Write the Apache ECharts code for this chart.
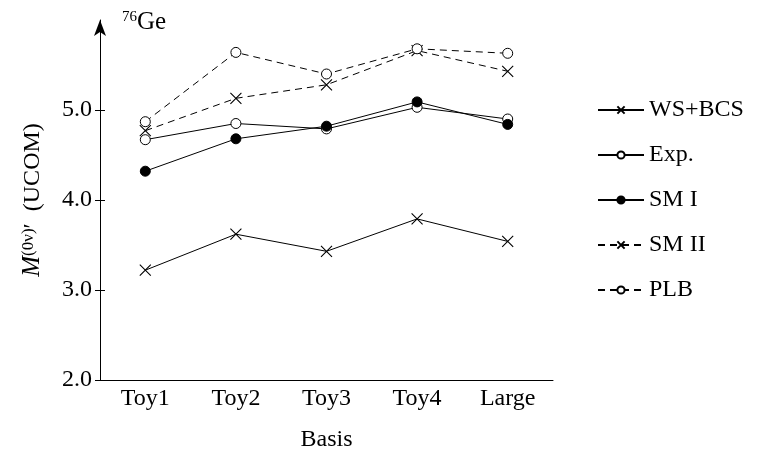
<!DOCTYPE html>
<html>
<head>
<meta charset="utf-8">
<script src="https://cdn.jsdelivr.net/npm/echarts@6/dist/echarts.min.js"></script>
<style>html,body{margin:0;padding:0;background:#fff;}#c{width:761px;height:460px;}</style>
</head>
<body>
<div id="c"></div>
<script>
const categories = ['Toy1', 'Toy2', 'Toy3', 'Toy4', 'Large'];
const wsBcs = [3.22, 3.62, 3.43, 3.79, 3.54];
const expVals = [4.67, 4.85, 4.79, 5.03, 4.90];
const smI = [4.32, 4.68, 4.82, 5.09, 4.84];
const smII = [4.77, 5.13, 5.28, 5.66, 5.43];
const plb = [4.87, 5.64, 5.40, 5.68, 5.63];
const yTickValues = [2, 3, 4, 5];

const FONT = '"Liberation Serif", "DejaVu Serif", serif';
const FS = 24;
const CROSS = 'path://M0,0L10,10M0,10L10,0';

function mkSeries(name, data, kind, dashed) {
  const s = {
    name, type: 'line', data,
    lineStyle: { color: '#000', width: 1, type: dashed ? [7, 5] : 'solid' },
    emphasis: { disabled: true },
    symbolKeepAspect: true
  };
  if (kind === 'cross') {
    s.symbol = CROSS; s.symbolSize = 11;
    s.itemStyle = { color: 'rgba(0,0,0,0)', borderColor: '#000', borderWidth: 1.1 };
  } else if (kind === 'open') {
    s.symbol = 'circle'; s.symbolSize = 10;
    s.itemStyle = { color: '#fff', borderColor: '#000', borderWidth: 1 };
  } else {
    s.symbol = 'circle'; s.symbolSize = 10;
    s.itemStyle = { color: '#000', borderColor: '#000', borderWidth: 1 };
  }
  return s;
}

const chart = echarts.init(document.getElementById('c'));
chart.setOption({
  animation: false,
  backgroundColor: '#fff',
  textStyle: { fontFamily: FONT, color: '#000' },
  graphic: [{
    type: 'text', left: 122, top: 10,
    style: {
      text: '{s|76}{g|Ge}',
      rich: {
        s: { fontFamily: FONT, fontSize: 15, verticalAlign: 'top', fill: '#000' },
        g: { fontFamily: FONT, fontSize: 25, fill: '#000' }
      }
    }
  }],
  grid: { left: 100, right: 208, top: 20, bottom: 80 },
  legend: {
    orient: 'vertical', left: 592, top: 93,
    itemWidth: 46, itemHeight: 9, itemGap: 21,
    textStyle: { fontFamily: FONT, fontSize: FS, color: '#000', lineHeight: 24 },
    data: ['WS+BCS', 'Exp.', 'SM I', 'SM II', 'PLB']
  },
  xAxis: {
    type: 'category', data: categories, boundaryGap: true,
    axisLine: { lineStyle: { color: '#000', width: 1 } },
    axisTick: { show: false },
    axisLabel: { fontFamily: FONT, fontSize: FS, color: '#000', margin: 7 },
    name: 'Basis', nameLocation: 'middle', nameGap: 48,
    nameTextStyle: { fontFamily: FONT, fontSize: FS, color: '#000' }
  },
  yAxis: [{
    type: 'value', min: 2, max: 6,
    axisLine: { show: true, symbol: ['none', 'arrow'], symbolSize: [9, 16], lineStyle: { color: '#000', width: 1 } },
    axisTick: { show: true, length: 5, customValues: yTickValues, lineStyle: { color: '#000' } },
    axisLabel: { customValues: yTickValues, formatter: v => v.toFixed(1), fontFamily: FONT, fontSize: FS, color: '#000', margin: 8 },
    splitLine: { show: false },
    name: '{i|M}{s|(0ν)}{p|′  (UCOM)}', nameLocation: 'middle', nameGap: 55,
    nameTextStyle: {
      fontFamily: FONT, fontSize: FS, color: '#000',
      rich: {
        i: { fontFamily: FONT, fontSize: 25, fontStyle: 'italic', color: '#000' },
        s: { fontFamily: FONT, fontSize: 17, verticalAlign: 'top', color: '#000' },
        p: { fontFamily: FONT, fontSize: FS, color: '#000' }
      }
    }
  }, {
    type: 'value', min: 2, max: 6, position: 'left',
    axisLine: { show: false },
    axisTick: { show: true, inside: true, length: 5, customValues: yTickValues, lineStyle: { color: '#000' } },
    axisLabel: { show: false },
    splitLine: { show: false }
  }],
  series: [
    mkSeries('WS+BCS', wsBcs, 'cross', false),
    mkSeries('Exp.', expVals, 'open', false),
    mkSeries('SM I', smI, 'filled', false),
    mkSeries('SM II', smII, 'cross', true),
    mkSeries('PLB', plb, 'open', true)
  ]
});
</script>
</body>
</html>
